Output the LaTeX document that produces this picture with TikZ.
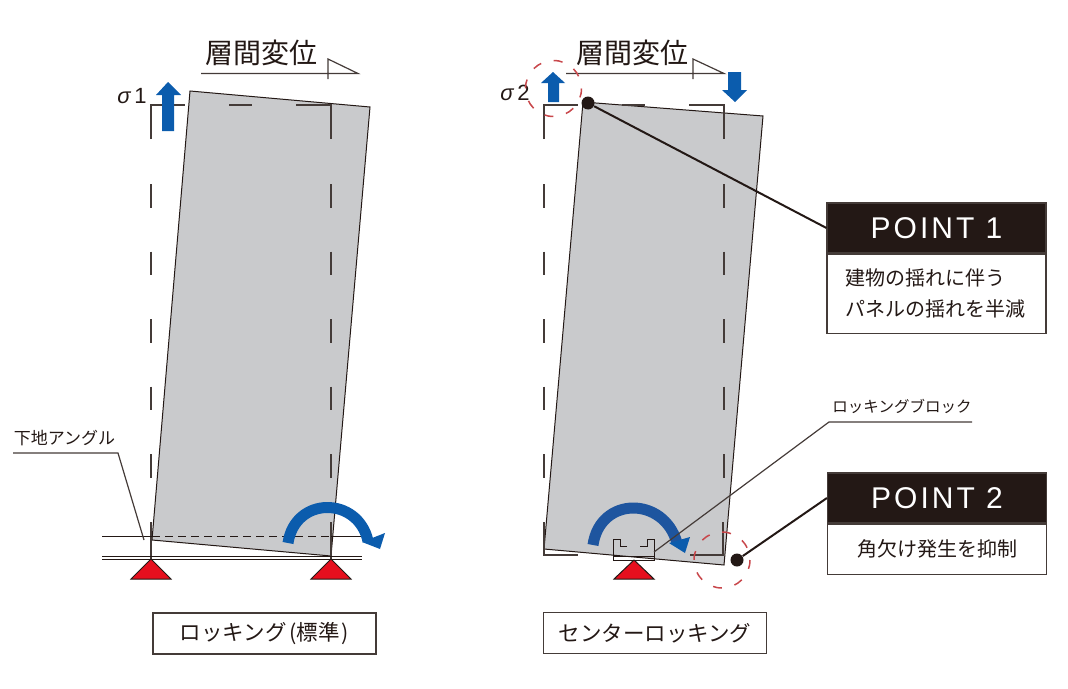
\documentclass[tikz,border=0pt]{standalone}
\usepackage{fontspec}
\usetikzlibrary{calc}
\setmainfont{Noto Sans CJK JP}
\newfontfamily\pointfont[LetterSpace=10]{Liberation Sans}
\newfontfamily\sigmafont{Liberation Sans}
\definecolor{ink}{HTML}{231815}
\definecolor{panelgray}{HTML}{C9CACC}
\definecolor{arrowblue}{HTML}{0B5CAD}
\definecolor{archblue}{HTML}{1E559F}
\definecolor{suppred}{HTML}{E60F1E}
\definecolor{ringred}{HTML}{C8474B}
\newcommand{\fs}[1]{\fontsize{#1}{#1}\selectfont}
\begin{document}
\begin{tikzpicture}[x=1pt, y=-1pt, ink, line width=1pt,
    panel/.style = {fill=panelgray, draw=ink},
    guide/.style = {draw=ink!85, line width=1.2pt},
    gaps/.style = {guide, dash pattern=on 23.5pt off 44pt},
    supp/.style = {fill=suppred, draw=ink, line width=1pt},
    ring/.style = {draw=ringred, line width=1.5pt, dash pattern=on 9pt off 13pt},
    dot/.style = {circle, fill=ink, inner sep=0pt, minimum size=13pt},
    head/.style = {draw=ink!85, line width=1.1pt, fill=ink, text=white, minimum width=219pt, minimum height=50pt, inner sep=0pt, font=\pointfont\fs{30}},
    body/.style = {draw=ink!85, line width=1.1pt, fill=white, minimum width=219pt, inner sep=0pt, font=\fs{20}},
    title/.style = {draw=ink!85, line width=1.1pt, minimum width=223pt, minimum height=41pt, inner sep=0pt, font=\fs{21.5}},
    lab/.style = {inner sep=0pt, font=\fs{28}}]
    \useasboundingbox (0,0) rectangle (1068,688);

    \draw[panel] (190,91) -- (370,107) -- (331,556) -- (152,540) -- cycle;
    \draw[guide] (151,139) -- (151,105) -- (185,105) (229,105) -- (252,105) (296,105) -- (331,105) -- (331,139);
    \draw[gaps] (151,184) -- (151,480);
    \draw[gaps] (331,184) -- (331,480);
    \draw[guide] (151,522) -- (151,559) (331,522) -- (331,559);
    \draw[ink] (102,536) -- (152,536) (331,536) -- (362,536);
    \draw[ink, dash pattern=on 8pt off 5pt] (152,536) -- (331,536);
    \draw[ink] (102,556) -- (362,556) (102,559) -- (362,559);
    \draw[supp] (151,559) -- (171,579) -- (131,579) -- cycle;
    \draw[supp] (331,559) -- (351,579) -- (311,579) -- cycle;
    \draw[arrowblue, line width=11pt] (288,543) .. controls (295,496) and (358,496) .. (368,541);
    \fill[arrowblue] (385,533) -- (362,542) -- (380,549) -- cycle;
    \fill[arrowblue] (168,82) -- (181,95) -- (174,95) -- (174,131) -- (162,131) -- (162,95) -- (156,95) -- cycle;

    \node[lab] (drift1) at (261,53) {層間変位};
    \coordinate (line1a) at (201,73.5);
    \coordinate (line1b) at (358,73.5);
    \draw[guide] (line1a) -- (line1b) -- (328,59) -- (328,79);
    \node[inner sep=0pt, font=\fs{22}] (sig1) at (132,96) {\sigmafont{\itshape σ}\,1};

    \node[lab, font=\fs{17}] (base) at (64.5,438) {下地アングル};
    \coordinate (base1) at (13,453);
    \coordinate (base2) at (118,453);
    \coordinate (base3) at (144,540);
    \draw[guide] (base1) -- (base2) -- (base3);

    \node[title] (t1) at (264.5,633.5) {ロッキング\kern3pt(標準\kern2pt)};

    \draw[panel] (583,102) -- (763,116) -- (724,565) -- (544,549) -- cycle;
    \draw[guide] (544,139) -- (544,105) -- (578,105) (622,105) -- (645,105) (689,105) -- (724,105) -- (724,139);
    \draw[gaps] (544,184) -- (544,480);
    \draw[gaps] (724,184) -- (724,480);
    \draw[guide] (544,522) -- (544,555) -- (578,555) (690,555) -- (723,555) -- (723,522);
    \draw[ink] (627,546) -- (620,546) -- (620,539) -- (613,539) -- (613,560) -- (654,560) -- (654,539) -- (647,539) -- (647,546) -- (640,546);
    \draw[ink] (613,556) -- (654,556);
    \draw[supp] (634,560) -- (654,579) -- (614,579) -- cycle;
    \draw[archblue, line width=11pt] (593,545) .. controls (600,496) and (664,496) .. (677,543);
    \fill[arrowblue] (690,537) -- (669,543) -- (685,553) -- cycle;
    \fill[arrowblue] (553,72) -- (565,83) -- (559,83) -- (559,102) -- (548,102) -- (548,83) -- (541,83) -- cycle;
    \fill[arrowblue] (728,72) -- (741,72) -- (741,90) -- (747,90) -- (735,102) -- (722,90) -- (728,90) -- cycle;

    \node[lab] (drift2) at (632,53) {層間変位};
    \coordinate (line2a) at (566,73.5);
    \coordinate (line2b) at (724,73.5);
    \draw[guide] (line2a) -- (line2b) -- (693,59) -- (693,79);
    \node[inner sep=0pt, font=\fs{22}] (sig2) at (515,93) {\sigmafont{\itshape σ}\,2};

    \draw[ring] (553.5,88.5) circle (28);
    \draw[ring] (722,560) circle (28);

    \node[head] (p1) at (936.5,228) {POINT 1};
    \node[body, minimum height=79pt, below=0pt] (b1) at (p1.south) {\parbox{183pt}{\baselineskip=31pt 建物の揺れに伴う\\パネルの揺れを半減}};
    \node[head] (p2) at (937,498) {POINT 2};
    \node[body, minimum height=50pt, below=0pt] (b2) at (p2.south) {角欠け発生を抑制};
    \node[title] (t2) at (655,633) {センターロッキング};

    \node[dot] (d1) at (588,103) {};
    \node[dot] (d2) at (737,560) {};
    \draw[line width=2pt] (d1) -- (p1.west);
    \draw[line width=2pt] (d2) -- (p2.west);

    \node[inner sep=0pt, font=\fs{15.5}] (lock) at (902,406) {ロッキングブロック};
    \coordinate (lock1) at (654,552);
    \coordinate (lock2) at (829,422);
    \coordinate (lock3) at (972,422);
    \draw[guide] (lock1) -- (lock2) -- (lock3);
\end{tikzpicture}
\end{document}
